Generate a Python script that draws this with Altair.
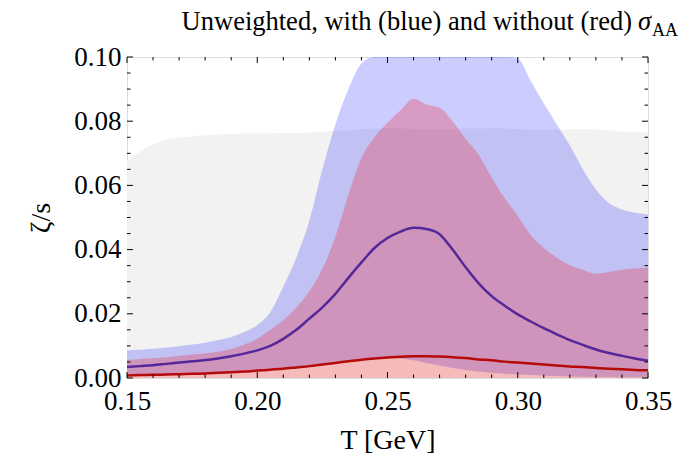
import altair as alt
import pandas as pd

# ---------------- data ----------------
T = [0.150, 0.155, 0.160, 0.165, 0.170, 0.175, 0.180, 0.185, 0.190, 0.195,
     0.200, 0.205, 0.210, 0.215, 0.220, 0.225, 0.230, 0.235, 0.240, 0.245,
     0.250, 0.255, 0.260, 0.265, 0.270, 0.275, 0.280, 0.285, 0.290, 0.295,
     0.300, 0.305, 0.310, 0.315, 0.320, 0.325, 0.330, 0.335, 0.340, 0.345,
     0.350]

gray_hi = [0.0675, 0.0705, 0.0728, 0.0742, 0.0749, 0.0752, 0.0756, 0.0758, 0.0760, 0.0762,
           0.0762, 0.0762, 0.0763, 0.0763, 0.0765, 0.0767, 0.0770, 0.0772, 0.0775, 0.0777,
           0.0778, 0.0777, 0.0776, 0.0775, 0.0775, 0.0776, 0.0777, 0.0777, 0.0778, 0.0777,
           0.0776, 0.0774, 0.0772, 0.0774, 0.0775, 0.0775, 0.0774, 0.0772, 0.0768, 0.0766,
           0.0765]

blue_hi = [0.0086, 0.0088, 0.0091, 0.0095, 0.0099, 0.0104, 0.0110, 0.0118, 0.0128, 0.0143,
           0.0165, 0.0205, 0.0285, 0.0375, 0.0490, 0.0650, 0.0790, 0.0900, 0.0980, 0.1000,
           0.1000, 0.1000, 0.1000, 0.1000, 0.1000, 0.1000, 0.1000, 0.1000, 0.1000, 0.1000,
           0.0995, 0.0925, 0.0855, 0.0790, 0.0725, 0.0650, 0.0587, 0.0545, 0.0525, 0.0515,
           0.0509]

blue_lo = [0.0006, 0.0006, 0.0007, 0.0008, 0.0009, 0.0010, 0.0012, 0.0014, 0.0016, 0.0018,
           0.0021, 0.0024, 0.0027, 0.0030, 0.0034, 0.0039, 0.0045, 0.0051, 0.0057, 0.0062,
           0.0064, 0.0061, 0.0055, 0.0047, 0.0039, 0.0031, 0.0025, 0.0020, 0.0016, 0.0013,
           0.0011, 0.0009, 0.0007, 0.0006, 0.0005, 0.0004, 0.0003, 0.0003, 0.0002, 0.0002,
           0.0002]

red_hi = [0.0056, 0.0059, 0.0062, 0.0065, 0.0069, 0.0073, 0.0077, 0.0082, 0.0090, 0.0104,
          0.0122, 0.0150, 0.0180, 0.0220, 0.0270, 0.0340, 0.0440, 0.0570, 0.0685, 0.0750,
          0.0795, 0.0834, 0.0870, 0.0852, 0.0842, 0.0800, 0.0745, 0.0695, 0.0625, 0.0560,
          0.0505, 0.0445, 0.0405, 0.0375, 0.0352, 0.0337, 0.0325, 0.0330, 0.0337, 0.0341,
          0.0344]

blue_med = [0.0034, 0.0037, 0.0040, 0.0044, 0.0048, 0.0052, 0.0056, 0.0061, 0.0068, 0.0076,
            0.0086, 0.0100, 0.0122, 0.0150, 0.0185, 0.0220, 0.0262, 0.0312, 0.0360, 0.0405,
            0.0436, 0.0456, 0.0468, 0.0464, 0.0448, 0.0400, 0.0345, 0.0295, 0.0255, 0.0225,
            0.0198, 0.0176, 0.0155, 0.0136, 0.0118, 0.0103, 0.0089, 0.0078, 0.0069, 0.0061,
            0.0054]

red_med = [0.0008, 0.0009, 0.0010, 0.0011, 0.0012, 0.0013, 0.0014, 0.0016, 0.0018, 0.0020,
           0.0023, 0.0026, 0.0029, 0.0033, 0.0037, 0.0042, 0.0047, 0.0052, 0.0057, 0.0061,
           0.0064, 0.0066, 0.0068, 0.0068, 0.0067, 0.0065, 0.0062, 0.0058, 0.0055, 0.0051,
           0.0048, 0.0045, 0.0042, 0.0039, 0.0036, 0.0034, 0.0031, 0.0029, 0.0027, 0.0025,
           0.0024]

x_major = [0.15, 0.20, 0.25, 0.30, 0.35]
x_minor = [0.16, 0.17, 0.18, 0.19, 0.21, 0.22, 0.23, 0.24, 0.26, 0.27, 0.28, 0.29,
           0.31, 0.32, 0.33, 0.34]
y_major = [0.00, 0.02, 0.04, 0.06, 0.08, 0.10]
y_minor = [0.005, 0.01, 0.015, 0.025, 0.03, 0.035, 0.045, 0.05, 0.055,
           0.065, 0.07, 0.075, 0.085, 0.09, 0.095]

title_main = "Unweighted, with (blue) and without (red)"
title_sym = "σ"
title_sub = "AA"
x_title = "T [GeV]"
y_title = "ζ/s"

# ---------------- chart ----------------
W, H = 521, 321
FONT = "Liberation Serif"

df = pd.DataFrame({"T": T, "gray_hi": gray_hi, "blue_hi": blue_hi, "blue_lo": blue_lo,
                   "red_hi": red_hi, "blue_med": blue_med, "red_med": red_med})

xs = alt.Scale(domain=[0.15, 0.35], nice=False, zero=False)
ys = alt.Scale(domain=[0.0, 0.10], nice=False, zero=False)

xa = alt.Axis(values=x_major, format=".2f", ticks=False, domain=False, grid=False,
              labelFlush=False, labelOverlap=False, labelFont=FONT, labelFontSize=27,
              labelColor="black", labelPadding=10, titleFont=FONT, titleFontSize=28,
              titleFontWeight="normal", titleColor="black", titlePadding=12)
ya = alt.Axis(values=y_major, format=".2f", ticks=False, domain=False, grid=False,
              labelFlush=False, labelOverlap=False, labelFont=FONT, labelFontSize=27,
              labelColor="black", labelPadding=6, titleFont=FONT, titleFontSize=28,
              titleFontWeight="normal", titleColor="black", titlePadding=18)

def X(field):
    return alt.X(field, scale=xs, axis=xa, title=x_title)

def Y(field):
    return alt.Y(field, scale=ys, axis=ya, title=y_title)

base = alt.Chart(df)

gray = base.mark_area(color="#f2f2f2", opacity=1, clip=True, interpolate="monotone").encode(
    x=X("T:Q"), y=Y("gray_hi:Q"))

blue_band = base.mark_area(color="#0000ff", opacity=0.2, clip=True, interpolate="monotone").encode(
    x=X("T:Q"), y=Y("blue_lo:Q"), y2="blue_hi:Q")

red_band = base.mark_area(color="#ff0000", opacity=0.23, clip=True, interpolate="monotone").encode(
    x=X("T:Q"), y=Y("red_hi:Q"))

blue_line = base.mark_line(color="#55279a", strokeWidth=2.5, clip=True, interpolate="monotone").encode(
    x=X("T:Q"), y=Y("blue_med:Q"))

red_line = base.mark_line(color="#b40a0a", strokeWidth=2.5, clip=True, interpolate="monotone").encode(
    x=X("T:Q"), y=Y("red_med:Q"))

def xticks(vals, length):
    d = alt.Chart(pd.DataFrame({"v": vals}))
    bottom = d.mark_rule(color="black", strokeWidth=1).encode(
        x=X("v:Q"), y=alt.value(H), y2=alt.value(H - length))
    top = d.mark_rule(color="black", strokeWidth=1).encode(
        x=X("v:Q"), y=alt.value(0), y2=alt.value(length))
    return [bottom, top]

def yticks(vals, length):
    d = alt.Chart(pd.DataFrame({"v": vals}))
    left = d.mark_rule(color="black", strokeWidth=1).encode(
        y=Y("v:Q"), x=alt.value(0), x2=alt.value(length))
    right = d.mark_rule(color="black", strokeWidth=1).encode(
        y=Y("v:Q"), x=alt.value(W), x2=alt.value(W - length))
    return [left, right]

one = alt.Chart(pd.DataFrame({"k": [0]}))
t_main = one.mark_text(font=FONT, fontSize=26.5, align="right", baseline="alphabetic",
                       color="black").encode(text=alt.value(title_main), x=alt.value(505), y=alt.value(-27))
t_sym = one.mark_text(font=FONT, fontSize=26.5, fontStyle="italic", align="left", baseline="alphabetic",
                      color="black").encode(text=alt.value(title_sym), x=alt.value(511), y=alt.value(-27))
t_sub = one.mark_text(font=FONT, fontSize=18, align="left", baseline="alphabetic",
                      color="black").encode(text=alt.value(title_sub), x=alt.value(525), y=alt.value(-21))

layers = [gray, blue_band, red_band, blue_line, red_line]
layers += xticks(x_major, 6) + xticks(x_minor, 3.5) + yticks(y_major, 6) + yticks(y_minor, 3.5)
layers += [t_main, t_sym, t_sub]

chart = alt.layer(*layers).properties(
    width=W, height=H,
    autosize=alt.AutoSizeParams(type="none"),
    padding={"left": 127, "top": 57, "right": 36, "bottom": 85},
    background="white",
).configure_view(stroke="black", strokeWidth=1.5).configure_axis(
    labelFont=FONT, titleFont=FONT
).configure(font=FONT)

chart.save("out.html", embed_options={"renderer": "svg", "actions": False})
